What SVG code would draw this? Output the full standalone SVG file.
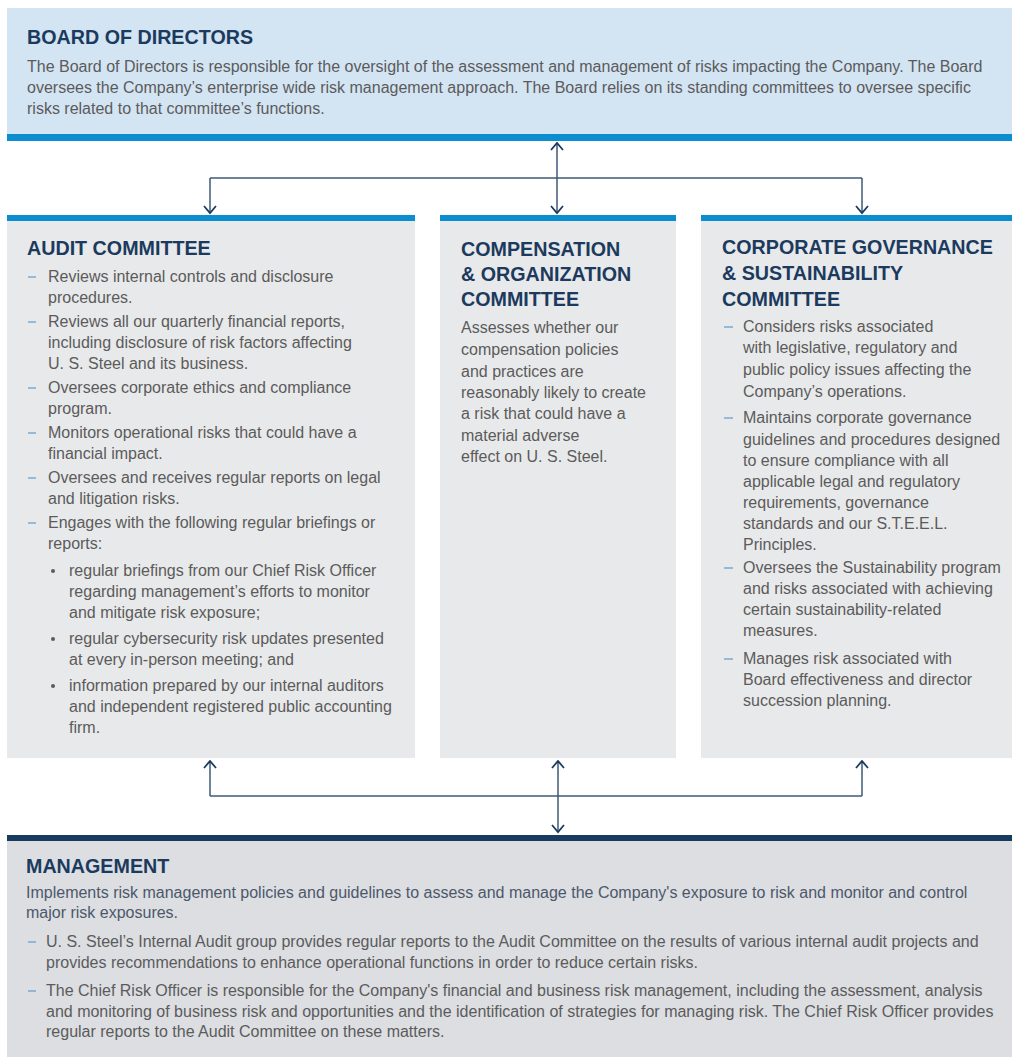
<svg xmlns="http://www.w3.org/2000/svg" width="1012" height="1059" viewBox="0 0 1012 1059">
<defs>
<style>
.t{font-family:"Liberation Sans",Arial,sans-serif;font-weight:bold;font-size:19.7px;fill:#1b3a5e}
.b{font-family:"Liberation Sans",Arial,sans-serif;font-size:16px;fill:#5b5b5b}
.m{fill:#4c586a}
.dash{stroke:#7aa8d6;stroke-width:1.5}
.bul{fill:#5b5b5b}
.conn{stroke:#3e5a74;stroke-width:1.5;fill:none}
</style>
<marker id="ah" viewBox="0 0 10 14" refX="8.5" refY="7" markerWidth="10" markerHeight="14" markerUnits="userSpaceOnUse" orient="auto-start-reverse">
<path d="M1.5,1 L8.5,7 L1.5,13" fill="none" stroke="#1b3a5e" stroke-width="1.8"/>
</marker>
</defs>
<rect width="1012" height="1059" fill="#ffffff"/>

<g id="board">
<rect x="7" y="8" width="1005" height="127" fill="#d3e4f3"/>
<rect x="7" y="134" width="1005" height="7" fill="#0b8ecf"/>
<text class="t" x="27" y="44">BOARD OF DIRECTORS</text>
<text class="b" x="27" y="72">The Board of Directors is responsible for the oversight of the assessment and management of risks impacting the Company. The Board</text>
<text class="b" x="27" y="93">oversees the Company’s enterprise wide risk management approach. The Board relies on its standing committees to oversee specific</text>
<text class="b" x="27" y="114">risks related to that committee’s functions.</text>
</g>

<g id="audit">
<rect x="7" y="215" width="408" height="543" fill="#e8e9ea"/>
<rect x="7" y="215" width="408" height="6" fill="#0b8ecf"/>
<text class="t" x="27" y="255">AUDIT COMMITTEE</text>
<g class="dash"><line x1="28" y1="277" x2="36" y2="277"/><line x1="28" y1="322" x2="36" y2="322"/><line x1="28" y1="388" x2="36" y2="388"/><line x1="28" y1="433" x2="36" y2="433"/><line x1="28" y1="478" x2="36" y2="478"/><line x1="28" y1="523" x2="36" y2="523"/></g>
<g class="bul"><circle cx="53" cy="571" r="2"/><circle cx="53" cy="639" r="2"/><circle cx="53" cy="686" r="2"/></g>
<text class="b" x="48" y="282">Reviews internal controls and disclosure</text>
<text class="b" x="48" y="303">procedures.</text>
<text class="b" x="48" y="327">Reviews all our quarterly financial reports,</text>
<text class="b" x="48" y="348">including disclosure of risk factors affecting</text>
<text class="b" x="48" y="369">U. S. Steel and its business.</text>
<text class="b" x="48" y="393">Oversees corporate ethics and compliance</text>
<text class="b" x="48" y="414">program.</text>
<text class="b" x="48" y="438">Monitors operational risks that could have a</text>
<text class="b" x="48" y="459">financial impact.</text>
<text class="b" x="48" y="483">Oversees and receives regular reports on legal</text>
<text class="b" x="48" y="504">and litigation risks.</text>
<text class="b" x="48" y="528">Engages with the following regular briefings or</text>
<text class="b" x="48" y="549">reports:</text>
<text class="b" x="69" y="576">regular briefings from our Chief Risk Officer</text>
<text class="b" x="69" y="597">regarding management’s efforts to monitor</text>
<text class="b" x="69" y="618">and mitigate risk exposure;</text>
<text class="b" x="69" y="644">regular cybersecurity risk updates presented</text>
<text class="b" x="69" y="665">at every in-person meeting; and</text>
<text class="b" x="69" y="691">information prepared by our internal auditors</text>
<text class="b" x="69" y="712">and independent registered public accounting</text>
<text class="b" x="69" y="733">firm.</text>
</g>

<g id="compensation">
<rect x="440" y="215" width="236" height="543" fill="#e8e9ea"/>
<rect x="440" y="215" width="236" height="6" fill="#0b8ecf"/>
<text class="t" x="461" y="256">COMPENSATION</text>
<text class="t" x="461" y="281">&amp; ORGANIZATION</text>
<text class="t" x="461" y="306">COMMITTEE</text>
<text class="b" x="461" y="333">Assesses whether our</text>
<text class="b" x="461" y="355">compensation policies</text>
<text class="b" x="461" y="377">and practices are</text>
<text class="b" x="461" y="398">reasonably likely to create</text>
<text class="b" x="461" y="419">a risk that could have a</text>
<text class="b" x="461" y="441">material adverse</text>
<text class="b" x="461" y="462">effect on U. S. Steel.</text>
</g>

<g id="governance">
<rect x="701" y="215" width="311" height="543" fill="#e8e9ea"/>
<rect x="701" y="215" width="311" height="6" fill="#0b8ecf"/>
<text class="t" x="722" y="254">CORPORATE GOVERNANCE</text>
<text class="t" x="722" y="280">&amp; SUSTAINABILITY</text>
<text class="t" x="722" y="306">COMMITTEE</text>
<g class="dash"><line x1="724" y1="327" x2="733" y2="327"/><line x1="724" y1="418" x2="733" y2="418"/><line x1="724" y1="568" x2="733" y2="568"/><line x1="724" y1="659" x2="733" y2="659"/></g>
<text class="b" x="743" y="332">Considers risks associated</text>
<text class="b" x="743" y="353">with legislative, regulatory and</text>
<text class="b" x="743" y="375">public policy issues affecting the</text>
<text class="b" x="743" y="397">Company’s operations.</text>
<text class="b" x="743" y="423">Maintains corporate governance</text>
<text class="b" x="743" y="445">guidelines and procedures designed</text>
<text class="b" x="743" y="466">to ensure compliance with all</text>
<text class="b" x="743" y="487">applicable legal and regulatory</text>
<text class="b" x="743" y="508">requirements, governance</text>
<text class="b" x="743" y="529">standards and our S.T.E.E.L.</text>
<text class="b" x="743" y="550">Principles.</text>
<text class="b" x="743" y="573">Oversees the Sustainability program</text>
<text class="b" x="743" y="594">and risks associated with achieving</text>
<text class="b" x="743" y="615">certain sustainability-related</text>
<text class="b" x="743" y="636">measures.</text>
<text class="b" x="743" y="664">Manages risk associated with</text>
<text class="b" x="743" y="685">Board effectiveness and director</text>
<text class="b" x="743" y="706">succession planning.</text>
</g>

<g id="management">
<rect x="7" y="835" width="1005" height="222" fill="#dcdee2"/>
<rect x="7" y="835" width="1005" height="6" fill="#183c60"/>
<text class="t" x="26" y="873">MANAGEMENT</text>
<text class="b m" x="26" y="898">Implements risk management policies and guidelines to assess and manage the Company's exposure to risk and monitor and control</text>
<text class="b m" x="26" y="918">major risk exposures.</text>
<g class="dash"><line x1="28" y1="942" x2="36" y2="942"/><line x1="28" y1="991" x2="36" y2="991"/></g>
<text class="b" x="46" y="947">U. S. Steel’s Internal Audit group provides regular reports to the Audit Committee on the results of various internal audit projects and</text>
<text class="b" x="46" y="968">provides recommendations to enhance operational functions in order to reduce certain risks.</text>
<text class="b" x="46" y="996">The Chief Risk Officer is responsible for the Company's financial and business risk management, including the assessment, analysis</text>
<text class="b" x="46" y="1017">and monitoring of business risk and opportunities and the identification of strategies for managing risk. The Chief Risk Officer provides</text>
<text class="b" x="46" y="1037">regular reports to the Audit Committee on these matters.</text>
</g>

<g id="connectors">
<line class="conn" x1="557" y1="143" x2="557" y2="213" marker-start="url(#ah)" marker-end="url(#ah)"/>
<line class="conn" x1="210" y1="178" x2="862" y2="178"/>
<line class="conn" x1="210" y1="178" x2="210" y2="213" marker-end="url(#ah)"/>
<line class="conn" x1="862" y1="178" x2="862" y2="213" marker-end="url(#ah)"/>
<line class="conn" x1="210" y1="796" x2="862" y2="796"/>
<line class="conn" x1="210" y1="796" x2="210" y2="761" marker-end="url(#ah)"/>
<line class="conn" x1="862" y1="796" x2="862" y2="761" marker-end="url(#ah)"/>
<line class="conn" x1="558" y1="761" x2="558" y2="832" marker-start="url(#ah)" marker-end="url(#ah)"/>
</g>
</svg>
